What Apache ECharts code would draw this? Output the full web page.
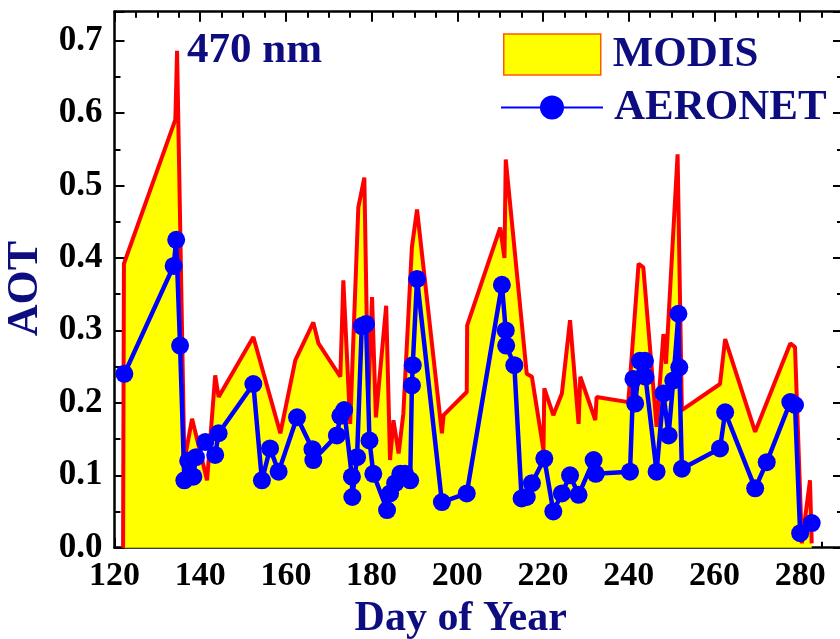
<!DOCTYPE html>
<html>
<head>
<meta charset="utf-8">
<script src="https://cdn.jsdelivr.net/npm/echarts@6/dist/echarts.min.js"></script>
<style>
html,body{margin:0;padding:0;background:#fff;}
#chart{width:840px;height:639px;}
</style>
</head>
<body>
<div id="chart"></div>
<script>
// ---- Data ----
const modisDays = [122, 122.2, 134.2, 134.6, 136.3, 138.1, 141.6, 143.5, 144.3, 152.4, 158.7, 162.2, 166.4, 167.6,
  172.7, 173.4, 175.0, 176.9, 178.3, 179.2, 180.1, 181.0, 183.4, 184.3, 185.1, 186.3, 187.4, 189.4, 190.6,
  196.4, 196.8, 202.2, 202.3, 210.0, 211.0, 211.3, 216.2, 217.4, 220.1, 220.3, 222.4, 224.4, 226.3, 228.3,
  228.7, 232.2, 232.5, 239.9, 242.3, 243.4, 246.5, 248.1, 248.7, 251.4, 252.4, 261.3, 262.5, 269.5, 277.7,
  278.8, 280.4, 282.3, 282.7];
const modisAOT = [0.0, 0.392, 0.591, 0.686, 0.12, 0.178, 0.093, 0.238, 0.208, 0.291, 0.158, 0.259, 0.311, 0.282,
  0.236, 0.369, 0.171, 0.470, 0.511, 0.20, 0.346, 0.18, 0.334, 0.121, 0.176, 0.130, 0.185, 0.415, 0.467,
  0.158, 0.183, 0.215, 0.307, 0.442, 0.40, 0.536, 0.240, 0.236, 0.135, 0.22, 0.183, 0.213, 0.314, 0.171,
  0.236, 0.176, 0.208, 0.201, 0.392, 0.387, 0.167, 0.295, 0.254, 0.543, 0.190, 0.226, 0.288, 0.160, 0.282,
  0.277, 0.006, 0.093, 0.006];

const aeronetDays = [122.3, 133.8, 134.4, 135.3, 136.3, 137.2, 138.4, 139.0, 141.2, 143.5, 144.3, 152.4, 154.4,
  156.3, 158.3, 162.6, 166.2, 166.4, 171.9, 172.7, 173.6, 175.4, 175.5, 176.6, 177.7, 178.7, 179.5, 180.4,
  183.6, 184.3, 185.5, 186.7, 187.8, 189.0, 189.4, 189.6, 190.6, 196.4, 202.2, 210.4, 211.3, 211.4, 213.3,
  215.0, 216.2, 217.4, 220.3, 222.4, 224.4, 226.3, 228.3, 231.8, 232.3, 240.3, 241.1, 241.5, 242.6, 243.8,
  243.9, 246.5, 248.1, 249.3, 250.4, 251.6, 251.8, 252.4, 261.3, 262.5, 269.5, 272.2, 277.7, 278.8, 280.0,
  282.7];
const aeronetAOT = [0.240, 0.389, 0.425, 0.279, 0.093, 0.120, 0.098, 0.125, 0.146, 0.128, 0.158, 0.226, 0.093,
  0.137, 0.105, 0.180, 0.136, 0.121, 0.155, 0.182, 0.190, 0.098, 0.070, 0.125, 0.306, 0.309, 0.148, 0.102,
  0.052, 0.075, 0.089, 0.102, 0.102, 0.093, 0.224, 0.252, 0.371, 0.063, 0.075, 0.363, 0.300, 0.279, 0.252,
  0.068, 0.070, 0.089, 0.123, 0.050, 0.075, 0.100, 0.073, 0.121, 0.102, 0.105, 0.233, 0.199, 0.258, 0.258,
  0.236, 0.105, 0.213, 0.155, 0.231, 0.323, 0.249, 0.109, 0.137, 0.187, 0.082, 0.118, 0.201, 0.197, 0.020,
  0.034];

const xTicks = {min: 120, max: 290, interval: 20};
const yTicks = {min: 0, max: 0.74, interval: 0.1};
const seriesNames = ['MODIS', 'AERONET'];
const wavelengthLabel = '470 nm';
const xTitle = 'Day of Year';
const yTitle = 'AOT';

// ---- Build ----
const zip = (a, b) => a.map((v, i) => [v, b[i]]);
const FONT = '"Liberation Serif", "Times New Roman", serif';
const NAVY = '#0d0d80';

const frameLine = {show: true, onZero: false, lineStyle: {color: '#000', width: 2.5}};
const frameTick = {show: true, inside: true, length: 10, lineStyle: {color: '#000', width: 2}};
const minor = n => ({show: true, splitNumber: n, length: 6, lineStyle: {color: '#000', width: 2}});

const chart = echarts.init(document.getElementById('chart'), null, {renderer: 'canvas'});
chart.setOption({
  backgroundColor: '#ffffff',
  animation: false,
  title: {
    text: wavelengthLabel, left: 187, top: 29, padding: 0,
    textStyle: {fontFamily: FONT, fontWeight: 'bold', fontSize: 43, color: NAVY}
  },
  legend: [
    {
      data: [{name: seriesNames[0], icon: 'rect', itemStyle: {color: '#ffff00', borderColor: '#ff5a00', borderWidth: 1.5}}],
      left: 503, top: 33, padding: 0, itemWidth: 97, itemHeight: 41, itemGap: 0,
      textStyle: {fontFamily: FONT, fontWeight: 'bold', fontSize: 43, color: NAVY, padding: [0, 0, 0, 7]}
    },
    {
      data: [seriesNames[1]],
      left: 500, top: 86, padding: 0, itemWidth: 102, itemHeight: 30, itemGap: 0,
      textStyle: {fontFamily: FONT, fontWeight: 'bold', fontSize: 43, color: NAVY, padding: [0, 0, 0, 6]}
    }
  ],
  grid: {left: 114.5, right: -3, top: 11.7, bottom: 91.3, containLabel: false, outerBoundsMode: 'none'},
  xAxis: [
    {
      type: 'value', position: 'bottom', min: xTicks.min, max: xTicks.max, interval: xTicks.interval,
      axisLine: frameLine, axisTick: frameTick, minorTick: minor(4), splitLine: {show: false},
      axisLabel: {show: true, showMaxLabel: false, color: '#000', fontFamily: FONT, fontWeight: 'bold', fontSize: 34, margin: 12},
      name: xTitle, nameLocation: 'middle', nameGap: 49,
      nameTextStyle: {fontFamily: FONT, fontWeight: 'bold', fontSize: 42, color: NAVY, padding: [0, 36, 0, 0]}
    },
    {
      type: 'value', position: 'top', min: xTicks.min, max: xTicks.max, interval: xTicks.interval,
      axisLine: frameLine, axisTick: frameTick, minorTick: minor(4), splitLine: {show: false},
      axisLabel: {show: false}
    }
  ],
  yAxis: [
    {
      type: 'value', position: 'left', min: yTicks.min, max: yTicks.max, interval: yTicks.interval,
      axisLine: frameLine, axisTick: frameTick, minorTick: minor(2), splitLine: {show: false},
      axisLabel: {show: true, showMaxLabel: false, color: '#000', fontFamily: FONT, fontWeight: 'bold', fontSize: 35, margin: 12,
        formatter: v => v.toFixed(1)},
      name: yTitle, nameLocation: 'middle', nameGap: 62, nameRotate: 90,
      nameTextStyle: {fontFamily: FONT, fontWeight: 'bold', fontSize: 44, color: NAVY, padding: [0, 18, 0, 0]}
    },
    {
      type: 'value', position: 'right', min: yTicks.min, max: yTicks.max, interval: yTicks.interval,
      axisLine: frameLine, axisTick: frameTick, minorTick: minor(2), splitLine: {show: false},
      axisLabel: {show: false}
    }
  ],
  series: [
    {
      name: seriesNames[0], type: 'line', xAxisIndex: 0, yAxisIndex: 0,
      data: zip(modisDays, modisAOT),
      symbol: 'none', z: 2,
      itemStyle: {color: '#ffff00'},
      lineStyle: {color: '#ff0000', width: 4},
      areaStyle: {color: '#ffff00', opacity: 1, origin: 'start'}
    },
    {
      name: seriesNames[1], type: 'line', xAxisIndex: 0, yAxisIndex: 0,
      data: zip(aeronetDays, aeronetAOT),
      symbol: 'circle', symbolSize: 18, z: 3,
      itemStyle: {color: '#0000ff', borderWidth: 0},
      lineStyle: {color: '#0000ff', width: 4.5}
    }
  ]
});
</script>
</body>
</html>
